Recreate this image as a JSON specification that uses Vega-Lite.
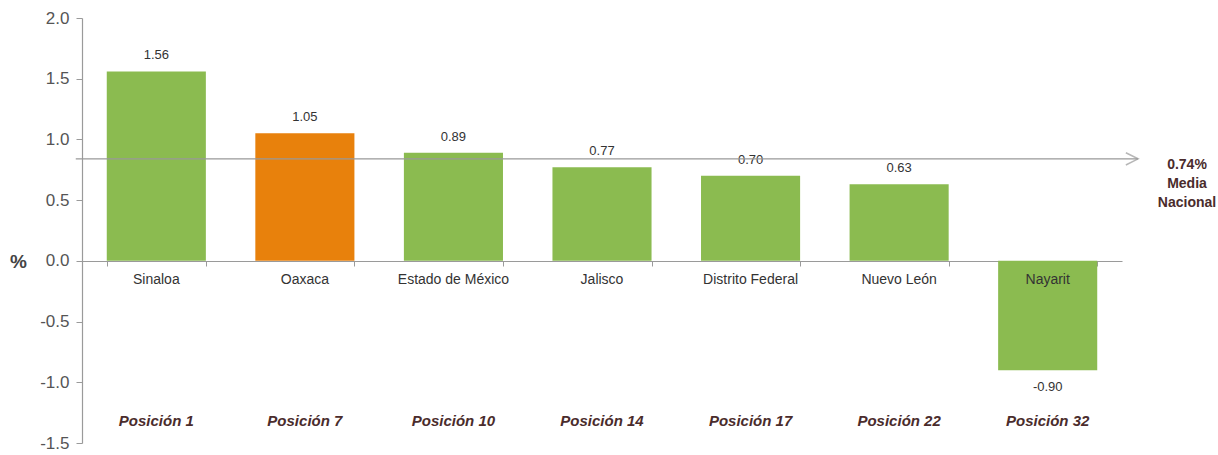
{
  "$schema": "https://vega.github.io/schema/vega-lite/v6.json",
  "width": 1040,
  "height": 425,
  "autosize": {"type": "none"},
  "padding": {"left": 82, "top": 18, "right": 96, "bottom": 12},
  "background": "white",
  "config": {"view": {"stroke": null}, "font": "Liberation Sans"},
  "datasets": {
    "estados": [
      {"estado": "Sinaloa", "valor": 1.56, "etiqueta": "1.56", "posicion": "Posición 1", "grupo": "otro"},
      {"estado": "Oaxaca", "valor": 1.05, "etiqueta": "1.05", "posicion": "Posición 7", "grupo": "Oaxaca"},
      {"estado": "Estado de México", "valor": 0.89, "etiqueta": "0.89", "posicion": "Posición 10", "grupo": "otro"},
      {"estado": "Jalisco", "valor": 0.77, "etiqueta": "0.77", "posicion": "Posición 14", "grupo": "otro"},
      {"estado": "Distrito Federal", "valor": 0.70, "etiqueta": "0.70", "posicion": "Posición 17", "grupo": "otro"},
      {"estado": "Nuevo León", "valor": 0.63, "etiqueta": "0.63", "posicion": "Posición  22", "grupo": "otro"},
      {"estado": "Nayarit", "valor": -0.90, "etiqueta": "-0.90", "posicion": "Posición  32", "grupo": "otro"}
    ],
    "media": [
      {"inicio": -0.006, "fin": 1.0154, "punta": 1.0096, "texto_x": 1.0625, "media": 0.84, "texto": "0.74%\nMedia\nNacional"}
    ]
  },
  "resolve": {"scale": {"x": "independent"}},
  "layer": [
    {
      "data": {"name": "estados"},
      "encoding": {
        "x": {
          "field": "estado",
          "type": "nominal",
          "sort": null,
          "scale": {"paddingInner": 0.333, "paddingOuter": 0.1667},
          "axis": {
            "orient": "bottom",
            "offset": -182,
            "labels": false,
            "title": null,
            "tickBand": "extent",
            "ticks": true,
            "tickSize": 5,
            "tickColor": "#9a9a9a",
            "domainColor": "#9a9a9a",
            "domainWidth": 1.2
          }
        }
      },
      "layer": [
        {
          "mark": {"type": "bar"},
          "encoding": {
            "y": {
              "field": "valor",
              "type": "quantitative",
              "scale": {"domain": [-1.5, 2.0], "nice": false, "zero": false},
              "axis": {
                "values": [-1.5, -1.0, -0.5, 0.0, 0.5, 1.0, 1.5, 2.0],
                "format": ".1f",
                "labelExpr": "replace(datum.label, '\u2212', '-')",
                "grid": false,
                "tickSize": 6,
                "tickColor": "#9a9a9a",
                "domainColor": "#9a9a9a",
                "domainWidth": 1.2,
                "labelFontSize": 17,
                "labelColor": "#555555",
                "labelPadding": 7,
                "title": "%",
                "titleAngle": 0,
                "titleFontSize": 19,
                "titleFontWeight": "bold",
                "titleColor": "#444444",
                "titleX": -64,
                "titleY": 243,
                "titleBaseline": "middle"
              }
            },
            "y2": {"datum": 0},
            "color": {
              "field": "grupo",
              "type": "nominal",
              "scale": {"domain": ["otro", "Oaxaca"], "range": ["#8bbb50", "#e8810c"]},
              "legend": null
            }
          }
        },
        {
          "transform": [{"filter": "datum.valor >= 0"}],
          "mark": {"type": "text", "baseline": "bottom", "dy": -9, "fontSize": 13, "color": "#333333"},
          "encoding": {
            "y": {"field": "valor", "type": "quantitative"},
            "text": {"field": "etiqueta"}
          }
        },
        {
          "transform": [{"filter": "datum.valor < 0"}],
          "mark": {"type": "text", "baseline": "top", "dy": 11, "fontSize": 13, "color": "#333333"},
          "encoding": {
            "y": {"field": "valor", "type": "quantitative"},
            "text": {"field": "etiqueta"}
          }
        },
        {
          "mark": {"type": "text", "baseline": "middle", "dy": 19, "fontSize": 14, "color": "#333333"},
          "encoding": {
            "y": {"datum": 0},
            "text": {"field": "estado"}
          }
        },
        {
          "mark": {"type": "text", "baseline": "middle", "fontSize": 15, "fontWeight": "bold", "fontStyle": "italic", "color": "#4a2c2c"},
          "encoding": {
            "y": {"datum": -1.32},
            "text": {"field": "posicion"}
          }
        }
      ]
    },
    {
      "data": {"name": "media"},
      "layer": [
        {
          "mark": {"type": "rule", "color": "#999999", "strokeWidth": 1.3},
          "encoding": {
            "x": {"field": "inicio", "type": "quantitative", "scale": {"domain": [0, 1], "nice": false, "zero": false, "clamp": false}, "axis": null},
            "x2": {"field": "fin"},
            "y": {"field": "media", "type": "quantitative"}
          }
        },
        {
          "mark": {"type": "point", "shape": "M-1,-1L1,0L-1,1", "filled": false, "stroke": "#999999", "strokeWidth": 1.5, "size": 150},
          "encoding": {
            "x": {"field": "punta", "type": "quantitative"},
            "y": {"field": "media", "type": "quantitative"}
          }
        },
        {
          "mark": {"type": "text", "lineBreak": "\n", "baseline": "middle", "align": "center", "dy": 6, "fontSize": 14, "fontWeight": "bold", "color": "#4a2c2c", "lineHeight": 19},
          "encoding": {
            "x": {"field": "texto_x", "type": "quantitative"},
            "y": {"field": "media", "type": "quantitative"},
            "text": {"field": "texto"}
          }
        }
      ]
    }
  ]
}
